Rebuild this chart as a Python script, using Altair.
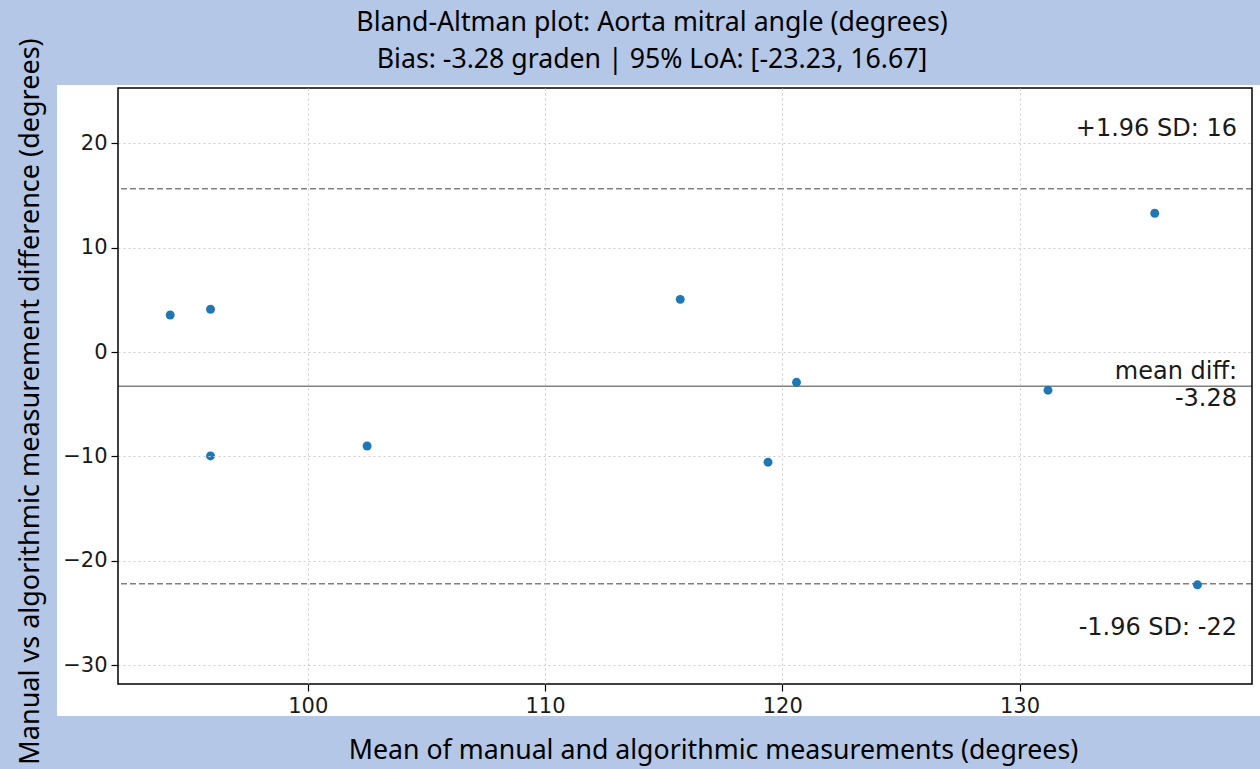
import altair as alt
import pandas as pd

# Data
mean_vals = [94.2, 95.9, 95.9, 102.5, 115.7, 119.4, 120.6, 131.2, 135.7, 137.5]
diff_vals = [3.55, 4.1, -9.95, -9.0, 5.05, -10.55, -2.9, -3.65, 13.3, -22.3]
bias = -3.28
upper_loa = 15.65
lower_loa = -22.2
x_ticks = [100, 110, 120, 130]
y_ticks = [-30, -20, -10, 0, 10, 20]
title_lines = ["Bland-Altman plot: Aorta mitral angle (degrees)",
               "Bias: -3.28 graden | 95% LoA: [-23.23, 16.67]"]

W, H = 1134, 596
BG = "#b4c7e7"

pts = pd.DataFrame({"m": mean_vals, "d": diff_vals})
lines = pd.DataFrame({"v": [upper_loa, lower_loa]})
bias_df = pd.DataFrame({"v": [bias]})
ann = pd.DataFrame({
    "v": [upper_loa, lower_loa],
    "t": ["+1.96 SD: 16", "-1.96 SD: -22"],
})
mean_ann = pd.DataFrame({"v": [bias], "t": [["mean diff:", "-3.28"]]})
one = pd.DataFrame({"a": [0]})

xs = alt.Scale(domain=[92.0, 139.8], nice=False, zero=False)
ys = alt.Scale(domain=[-31.8, 25.3], nice=False, zero=False)

panel = alt.Chart(one).mark_rect(color="white", clip=False).encode(
    x=alt.value(-61), x2=alt.value(1150), y=alt.value(-3), y2=alt.value(628)
)

frame = alt.Chart(one).mark_rect(
    fill=None, fillOpacity=0, stroke="black", strokeWidth=1.5, clip=False
).encode(x=alt.value(0), x2=alt.value(W), y=alt.value(0), y2=alt.value(H))

common_axis = dict(
    grid=True, gridDash=[2, 3], gridColor="#cccccc", gridWidth=1,
    labelFont="DejaVu Sans", labelFontSize=21, labelColor="#1a1a1a",
    tickColor="black", tickSize=7, tickWidth=1.2, labelPadding=4,
    domain=False, zindex=1,
    titleFontWeight="normal", titleFont="Noto Sans",
    titleColor="black", titleBaseline="middle", titleAnchor="middle",
)
xaxis = alt.Axis(
    values=x_ticks, title="Mean of manual and algorithmic measurements (degrees)",
    titleX=595, titleY=66, titleFontSize=26.7, **common_axis
)
yaxis = alt.Axis(
    values=y_ticks, title="Manual vs algorithmic measurement difference (degrees)",
    titleX=-88, titleY=313, titleAngle=-90, titleFontSize=27, **common_axis
)

points = alt.Chart(pts).mark_circle(size=80, color="#1f77b4", opacity=1).encode(
    x=alt.X("m:Q", scale=xs, axis=xaxis),
    y=alt.Y("d:Q", scale=ys, axis=yaxis),
)

loa_rules = alt.Chart(lines).mark_rule(
    color="#808080", strokeDash=[6, 3], strokeWidth=1.5
).encode(y=alt.Y("v:Q", scale=ys))

bias_rule = alt.Chart(bias_df).mark_rule(
    color="#808080", strokeWidth=1.5
).encode(y=alt.Y("v:Q", scale=ys))

txt = dict(align="right", baseline="middle", font="DejaVu Sans", fontSize=24,
           color="#1a1a1a")

upper_text = alt.Chart(ann.iloc[[0]]).mark_text(dy=-60, **txt).encode(
    y=alt.Y("v:Q", scale=ys), x=alt.value(W - 15), text="t:N")

lower_text = alt.Chart(ann.iloc[[1]]).mark_text(dy=44, **txt).encode(
    y=alt.Y("v:Q", scale=ys), x=alt.value(W - 15), text="t:N")

mean_text = alt.Chart(mean_ann).mark_text(lineHeight=27, dy=-14, **txt).encode(
    y=alt.Y("v:Q", scale=ys), x=alt.value(W - 15), text="t:N")

title_df = pd.DataFrame({"t": title_lines, "yy": [-65, -28]})
title_text = alt.Chart(title_df).mark_text(
    align="center", baseline="middle", font="Noto Sans", fontSize=26.7,
    color="black", clip=False
).encode(x=alt.value(534), y=alt.Y("yy:Q", scale=None), text="t:N")

chart = alt.layer(
    panel, loa_rules, bias_rule, points, upper_text, lower_text, mean_text,
    frame, title_text
).properties(
    width=W, height=H,
    background=BG,
    padding={"left": 118, "top": 88, "right": 8, "bottom": 85},
    autosize=alt.AutoSizeParams(type="none"),
).configure_view(
    stroke=None, fill="white"
)

chart.save("out.html", embed_options={"renderer": "svg", "actions": False})
